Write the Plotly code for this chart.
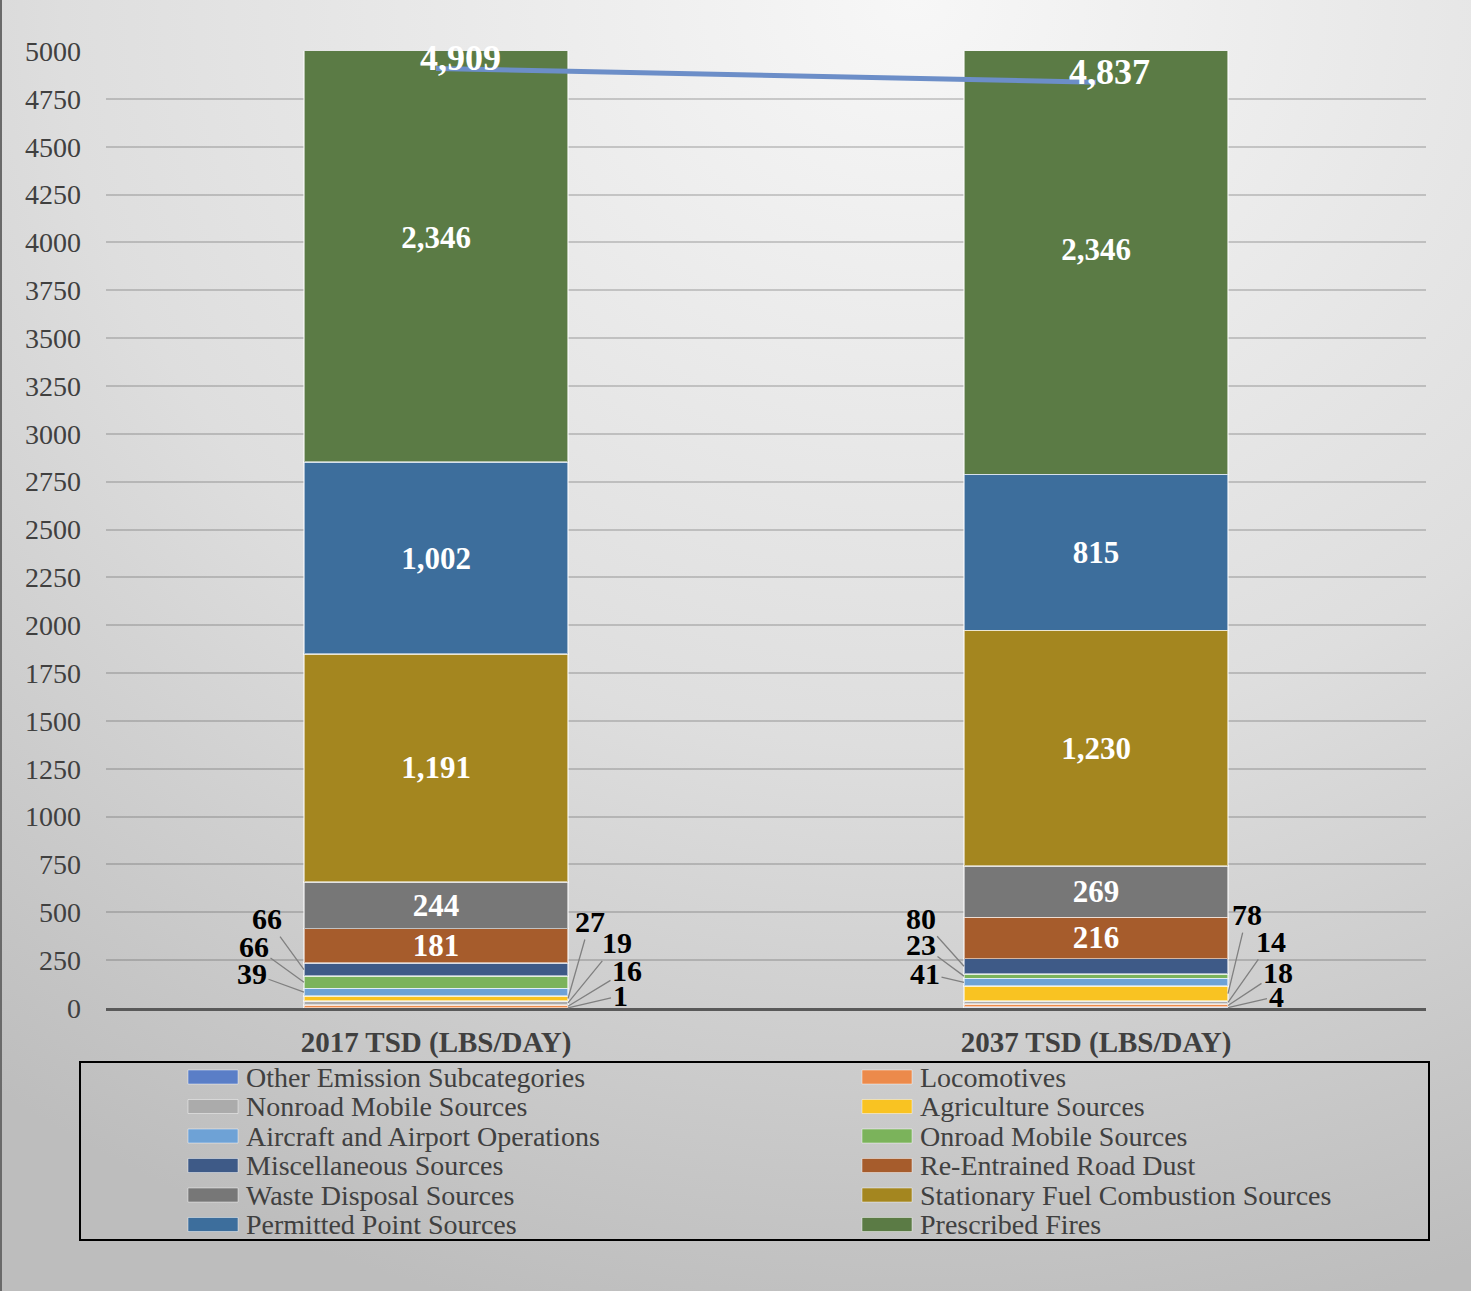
import base64
import plotly.graph_objects as go

# ---------------- data ----------------
categories = ["2017 TSD (LBS/DAY)", "2037 TSD (LBS/DAY)"]
series_names = [
    "Other Emission Subcategories", "Locomotives",
    "Nonroad Mobile Sources", "Agriculture Sources",
    "Aircraft and Airport Operations", "Onroad Mobile Sources",
    "Miscellaneous Sources", "Re-Entrained Road Dust",
    "Waste Disposal Sources", "Stationary Fuel Combustion Sources",
    "Permitted Point Sources", "Prescribed Fires",
]
other = [1, 4]
locomotives = [16, 18]
nonroad = [19, 14]
agriculture = [27, 78]
aircraft = [39, 41]
onroad = [66, 23]
misc = [66, 80]
road_dust = [181, 216]
waste = [244, 269]
stationary = [1191, 1230]
permitted = [1002, 815]
prescribed = [2346, 2346]
totals = [4909, 4837]
y_tick_step = 250
y_max = 5000

series_values = [other, locomotives, nonroad, agriculture, aircraft, onroad,
                 misc, road_dust, waste, stationary, permitted, prescribed]

# ---------------- styles ----------------
colors = ["#5A7EC7", "#EC8A4B", "#ABABAB", "#F9C322", "#6EA2D6", "#7BB35B",
          "#3E5A87", "#A65C2C", "#777777", "#A4861F", "#3D6E9C", "#5B7B45"]
inside_label = [False] * 7 + [True] * 5
# pixel offsets (ax, ay) for external labels; side: -1 left edge, +1 right edge
ext_offsets = {
    "Miscellaneous Sources": (-1, [(-37, -51), (-43, -48)]),
    "Onroad Mobile Sources": (-1, [(-50, -36), (-43, -32)]),
    "Aircraft and Airport Operations": (-1, [(-52, -19), (-39, -9)]),
    "Agriculture Sources": (1, [(22, -77), (19, -79)]),
    "Nonroad Mobile Sources": (1, [(49, -60), (43, -61)]),
    "Locomotives": (1, [(59, -36), (50, -33)]),
    "Other Emission Subcategories": (1, [(52, -12), (48, -11)]),
}
FONT = "Times New Roman, Liberation Serif, serif"
BAR_W = 0.4

W, H = 1471, 1291
L, R, T, B = 106, 45, 51, 283
PW, PH = W - L - R, H - T - B


def px_x(px):
    return (px - L) / PW


def px_y(py):
    return (H - B - py) / PH


xs = list(range(len(categories)))
fig = go.Figure()

for name, vals, col, inside in zip(series_names, series_values, colors, inside_label):
    fig.add_trace(go.Bar(
        x=xs, y=vals, name=name, width=BAR_W,
        marker=dict(color=col, line=dict(color="rgba(255,255,255,0.55)", width=1.5)),
        texttemplate="%{y:,.0f}" if inside else "",
        textposition="inside" if inside else "none",
        insidetextanchor="middle", textangle=0, constraintext="none",
        textfont=dict(family=FONT, size=31, color="white", weight="bold"),
        showlegend=False, hoverinfo="skip",
    ))

fig.add_trace(go.Scatter(
    x=xs, y=totals, mode="lines", line=dict(color="#6C8EC8", width=5),
    showlegend=False, hoverinfo="skip",
))

annotations = []
# total labels
for i, (tv, shift) in enumerate(zip(totals, [(24, 10), (13, 10)])):
    annotations.append(dict(
        x=xs[i], y=tv, xref="x", yref="y", text=f"{tv:,}", showarrow=False,
        xshift=shift[0], yshift=shift[1],
        font=dict(family=FONT, size=36, color="white", weight="bold"),
    ))

# external small-segment labels with leader lines
for i in xs:
    base = 0
    for name, vals in zip(series_names, series_values):
        v = vals[i]
        mid = base + v / 2
        base += v
        if name in ext_offsets:
            side, offs = ext_offsets[name]
            ax, ay = offs[i]
            annotations.append(dict(
                x=xs[i] + side * BAR_W / 2, y=mid, xref="x", yref="y",
                text=f"{v:,}", showarrow=True, arrowhead=0, arrowwidth=1.3,
                arrowcolor="#808080", ax=ax, ay=ay, standoff=0,
                font=dict(family=FONT, size=30, color="black", weight="bold"),
            ))

# legend (two columns, row-wise order)
shapes = []
col_x = [188, 862]
row_y0, row_dy = 1077, 29.5
for k, (name, col) in enumerate(zip(series_names, colors)):
    r, c = divmod(k, 2)
    cy = row_y0 + r * row_dy
    shapes.append(dict(
        type="rect", xref="paper", yref="paper",
        x0=px_x(col_x[c]), x1=px_x(col_x[c] + 50),
        y0=px_y(cy + 7), y1=px_y(cy - 7),
        fillcolor=col, line=dict(color="rgba(255,255,255,0.45)", width=1),
    ))
    annotations.append(dict(
        x=px_x(col_x[c] + 56), y=px_y(cy), xref="paper", yref="paper",
        xanchor="left", yanchor="middle", text=name, showarrow=False,
        font=dict(family=FONT, size=28, color="#404040"),
    ))
shapes.append(dict(
    type="rect", xref="paper", yref="paper",
    x0=px_x(80), x1=px_x(1429), y0=px_y(1240), y1=px_y(1062),
    line=dict(color="black", width=2), fillcolor="rgba(0,0,0,0)",
))

svg = f'''<svg xmlns="http://www.w3.org/2000/svg" width="{W}" height="{H}" preserveAspectRatio="none">
<defs><radialGradient id="g" cx="0.62" cy="0.0" r="1.05">
<stop offset="0" stop-color="#f7f7f7"/><stop offset="0.55" stop-color="#dedede"/><stop offset="1" stop-color="#bdbdbd"/>
</radialGradient></defs>
<rect width="{W}" height="{H}" fill="url(#g)"/>
<rect x="0" y="0" width="2" height="{H}" fill="#6a6a6a"/></svg>'''
src = "data:image/svg+xml;base64," + base64.b64encode(svg.encode()).decode()

fig.update_layout(
    width=W, height=H, autosize=False,
    margin=dict(l=L, r=R, t=T, b=B, pad=0),
    paper_bgcolor="#dcdcdc", plot_bgcolor="rgba(0,0,0,0)",
    barmode="stack", showlegend=False,
    font=dict(family=FONT, color="#404040"),
    images=[dict(source=src, xref="paper", yref="paper",
                 x=px_x(0), y=px_y(0), sizex=W / PW, sizey=H / PH,
                 xanchor="left", yanchor="top", sizing="stretch", layer="below")],
    shapes=shapes, annotations=annotations,
    xaxis=dict(
        range=[-0.5, len(categories) - 0.5], tickvals=xs, ticktext=categories,
        showgrid=False, zeroline=False, showline=True, linecolor="#595959",
        linewidth=3, ticks="", ticklabelstandoff=6,
        tickfont=dict(family=FONT, size=29, color="#404040", weight="bold"),
    ),
    yaxis=dict(
        range=[0, y_max], dtick=y_tick_step, tick0=0, showgrid=True,
        gridcolor="rgba(80,80,80,0.26)", gridwidth=1.5, zeroline=False,
        showline=False, ticks="", ticklabelstandoff=24,
        tickfont=dict(family=FONT, size=28, color="#404040"),
    ),
)

fig.write_html(
    "out.html",
    config={"displayModeBar": False},
    post_script="document.body.style.margin='0px';document.body.style.overflow='hidden';",
)
